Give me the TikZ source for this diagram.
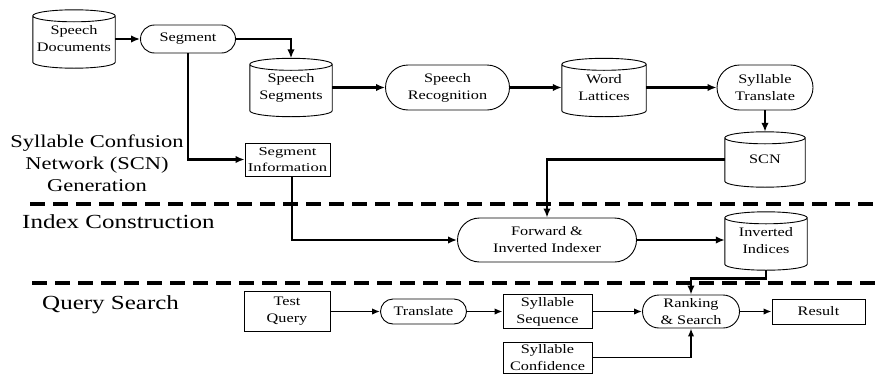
\documentclass[tikz,border=0pt]{standalone}
\usepackage{fontspec}
\setmainfont{Liberation Serif}
\newfontfamily\nodefont[FakeStretch=1.25]{Liberation Serif}
\newfontfamily\smallnodefont[FakeStretch=1.38]{Liberation Serif}
\newfontfamily\sectfont[FakeStretch=1.25]{Liberation Serif}
\usetikzlibrary{shapes.misc,arrows.meta,calc}
\tikzset{
  nf/.style={font=\nodefont\fontsize{13}{17}\selectfont, align=center, inner sep=0.5pt, text=black},
  cyl/.style={nf, minimum width=82pt, minimum height=58pt},
  rnd/.style={nf, draw, rounded rectangle, line width=0.9pt},
  box/.style={nf, draw, rectangle, line width=0.9pt},
  nodeline/.style={line width=0.9pt},
  ta/.style={line width=2.6pt, -{Latex[length=9pt,width=7.5pt]}},
  qa/.style={line width=1.7pt, -{Latex[length=8pt,width=6.5pt]}},
  sep/.style={line width=3.5pt, dash pattern=on 15pt off 8pt},
  sect/.style={font=\sectfont\fontsize{20}{22.5}\selectfont, align=center, inner sep=0pt, text=black},
}
\begin{document}
\begin{tikzpicture}[x=1pt,y=-1pt]
\useasboundingbox (0,0) rectangle (875,375);

% separators
\draw[sep] (30,204) -- (875,204);
\draw[sep] (32,283) -- (875,283);

% section labels
\node[sect, font=\sectfont\fontsize{18}{22}\selectfont] (lab1) at (97,163) {Syllable Confusion\\Network (SCN)\\Generation};
\node[sect, anchor=west] (lab2) at (22,222) {Index Construction};
\node[sect, anchor=west] (lab3) at (42,305) {Query Search};

% nodes
\node[cyl] (sd) at (74,39) {Speech\\Documents};
\node[rnd, minimum width=96pt, minimum height=28pt] (seg) at (188,39) {Segment};
\node[cyl] (ss) at (291,87.5) {Speech\\Segments};
\node[rnd, minimum width=125pt, minimum height=45pt] (sr) at (447.5,87.5) {Speech\\Recognition};
\node[cyl, minimum width=84pt] (wl) at (604,87.5) {Word\\Lattices};
\node[rnd, minimum width=97pt, minimum height=45pt] (st) at (765,87.5) {Syllable\\Translate};
\node[cyl, minimum width=80pt, minimum height=55pt] (scn) at (765,159.5) {SCN};
\node[box, minimum width=85pt, minimum height=33pt, font=\smallnodefont\fontsize{12}{15.5}\selectfont] (si) at (287.5,159.5) {Segment\\Information};
\node[rnd, minimum width=180pt, minimum height=44pt] (fi) at (547,240) {Forward \&\\Inverted Indexer};
\node[cyl] (ii) at (766,241) {Inverted\\Indices};
\node[box, minimum width=86pt, minimum height=40pt] (tq) at (287,311.5) {Test\\Query};
\node[rnd, minimum width=87pt, minimum height=25pt] (tr) at (423.5,311.5) {Translate};
\node[box, minimum width=89pt, minimum height=34pt] (sq) at (547.5,311.5) {Syllable\\Sequence};
\node[rnd, minimum width=98pt, minimum height=33pt] (rs) at (691,311.5) {Ranking\\\& Search};
\node[box, minimum width=93pt, minimum height=25pt] (res) at (818.5,311.5) {Result};
\node[box, minimum width=89pt, minimum height=31pt] (sc) at (547.5,357.5) {Syllable\\Confidence};

% cylinder outlines
\foreach \cy in {sd,ss,wl,scn,ii}{
  \draw[nodeline] let \p1=(\cy.north west), \p2=(\cy.south east), \n1={0.5*(\x2-\x1)} in
    (\x1,\y1-6pt) -- (\x1,\y2+6pt) arc[start angle=180,end angle=360,x radius=\n1,y radius=6pt] -- (\x2,\y1-6pt)
    (\x1+\n1,\y1-6pt) ellipse[x radius=\n1, y radius=6pt];
}

% connectors
\draw[ta] (sd.east) -- (seg.west);
\draw[ta] (seg.east) -| (ss.north);
\draw[ta] (ss.east) -- (sr.west);
\draw[ta] (sr.east) -- (wl.west);
\draw[ta] (wl.east) -- (st.west);
\draw[ta] (st.south) -- (scn.north);
\draw[ta] (scn.west) -| (fi.north);
\draw[ta] (seg.south) |- (si.west);
\draw[ta] ([xshift=4.5pt]si.south) |- (fi.west);
\draw[ta] (fi.east) -- (fi.east -| ii.west);
\draw[ta] (ii.south) -- ++(0,8) -| (rs.north);
\draw[qa] (tq.east) -- (tr.west);
\draw[qa] (tr.east) -- (sq.west);
\draw[qa] (sq.east) -- (rs.west);
\draw[qa] (rs.east) -- (res.west);
\draw[qa] (sc.east) -| (rs.south);
\end{tikzpicture}
\end{document}
